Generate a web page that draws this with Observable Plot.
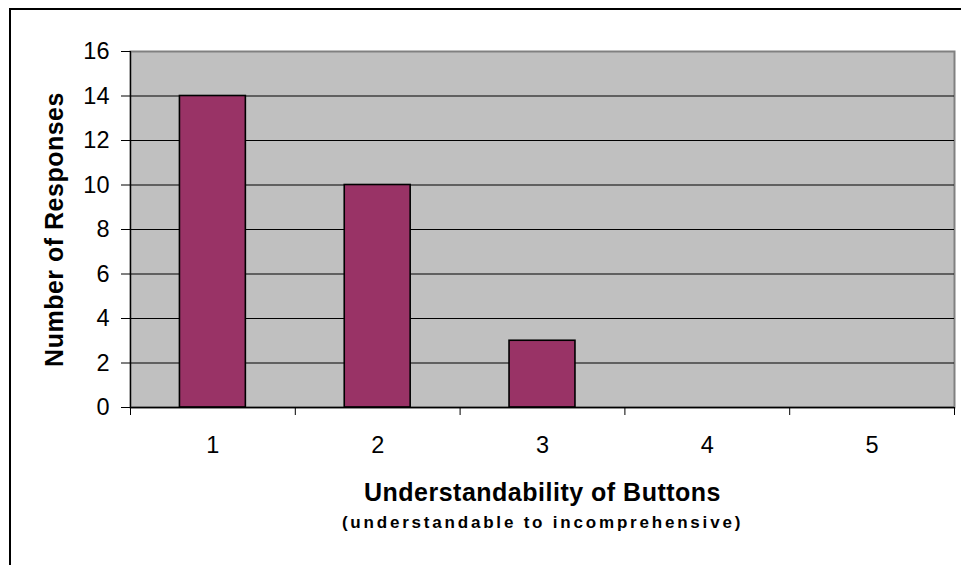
<!DOCTYPE html>
<html>
<head>
<meta charset="utf-8">
<script src="https://cdn.jsdelivr.net/npm/d3@7"></script>
<script src="https://cdn.jsdelivr.net/npm/@observablehq/plot@0.6"></script>
<style>
  html, body { margin: 0; padding: 0; background: #fff; }
  #wrap { position: relative; width: 961px; height: 565px; overflow: hidden; }
  #border { position: absolute; left: 9px; top: 8px; width: 1000px; height: 600px;
            border: 2px solid #000; box-sizing: border-box; pointer-events: none; }
  svg text { font-family: Arial, "Liberation Sans", sans-serif; }
  .title-main text { letter-spacing: 0.5px; }
  .title-sub text { letter-spacing: 2.8px; }
</style>
</head>
<body>
<div id="wrap"><div id="border"></div></div>
<script>
// Survey ratings (1 = understandable ... 5 = incomprehensive)
const ratings = [1, 2, 3, 4, 5];
const responses = [14, 10, 3, 0, 0];
const yTicks = [0, 2, 4, 6, 8, 10, 12, 14, 16];
const gridValues = [2, 4, 6, 8, 10, 12, 14];
const xTitle = "Understandability of Buttons";
const xSubtitle = "(understandable to incomprehensive)";
const yTitle = "Number of Responses";

const data = ratings.map((r, i) => ({rating: r, count: responses[i]}));
const halfBar = 0.2;
const boundaries = d3.range(0.5, ratings.length + 1, 1);

const chart = Plot.plot({
  width: 961,
  height: 565,
  marginLeft: 130,
  marginRight: 7,
  marginTop: 51,
  marginBottom: 158,
  style: {fontFamily: "Arial, 'Liberation Sans', sans-serif", background: "transparent", overflow: "visible"},
  x: {domain: [0.5, ratings.length + 0.5]},
  y: {domain: [0, 16]},
  marks: [
    Plot.frame({fill: "#c0c0c0", stroke: "#808080", strokeWidth: 2}),
    Plot.ruleY(gridValues, {stroke: "#000", strokeWidth: 1.2}),
    Plot.rectY(data.filter(d => d.count > 0), {
      x1: d => d.rating - halfBar,
      x2: d => d.rating + halfBar,
      y1: 0,
      y2: "count",
      fill: "#993366",
      stroke: "#000",
      strokeWidth: 1.6
    }),
    Plot.ruleX([0.5], {stroke: "#000", strokeWidth: 1.2}),
    Plot.ruleY([0], {stroke: "#000", strokeWidth: 1.5}),
    // y axis ticks and labels
    Plot.axisY({ticks: yTicks, tickSize: 9, tickPadding: 12, fontSize: 23.5,
                tickFormat: d3.format("d"), label: null, stroke: "#000", color: "#000"}),
    // x axis: ticks at category boundaries, labels at category centres
    Plot.axisX({ticks: boundaries, tickSize: 8, tickFormat: () => "", label: null, stroke: "#000"}),
    Plot.axisX({ticks: ratings, tickSize: 0, tickPadding: 29, fontSize: 23.5,
                tickFormat: d3.format("d"), label: null, color: "#000"}),
    // axis titles
    Plot.text([xTitle], {frameAnchor: "bottom", dy: 93, lineAnchor: "bottom",
                         fontSize: 25, fontWeight: "bold", fill: "#000", className: "title-main"}),
    Plot.text([xSubtitle], {frameAnchor: "bottom", dy: 120, lineAnchor: "bottom",
                            fontSize: 17, fontWeight: "bold", fill: "#000", className: "title-sub"}),
    Plot.text([yTitle], {frameAnchor: "left", dx: -68, rotate: -90, lineAnchor: "bottom",
                         textAnchor: "middle", fontSize: 25, fontWeight: "bold", fill: "#000",
                         className: "title-main"})
  ]
});

document.getElementById("wrap").prepend(chart);
</script>
</body>
</html>
